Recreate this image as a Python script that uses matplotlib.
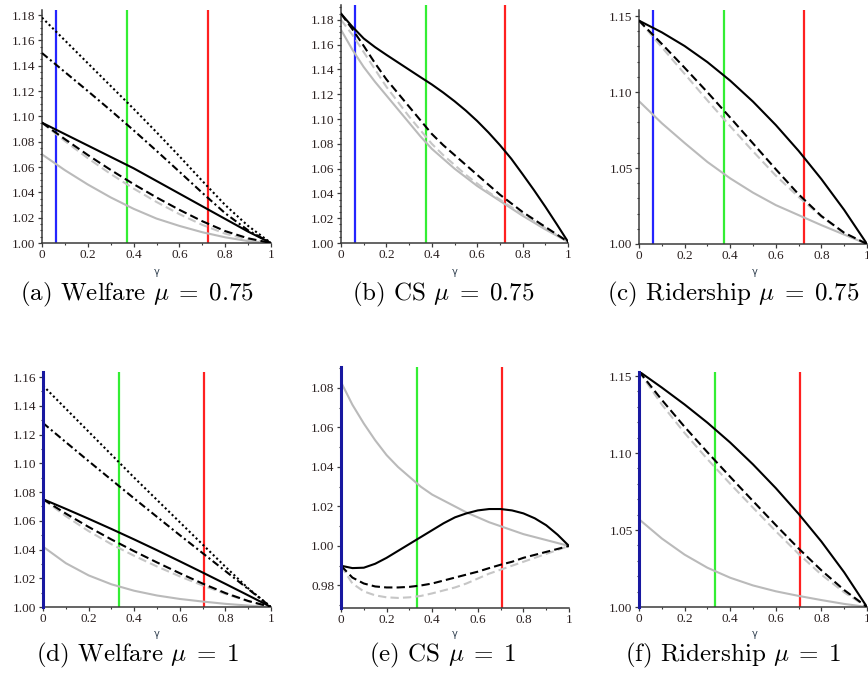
import matplotlib
matplotlib.use("Agg")
import matplotlib.pyplot as plt
from matplotlib.ticker import MultipleLocator, FuncFormatter

plt.rcParams['mathtext.fontset'] = 'cm'

# ---------------- data ----------------
gamma = [0.0, 0.1, 0.2, 0.3, 0.4, 0.5, 0.6, 0.7, 0.8, 0.9, 1.0]
gamma_fine = [0.0, 0.05, 0.1, 0.15, 0.2, 0.25, 0.3, 0.35, 0.4, 0.45, 0.5,
              0.55, 0.6, 0.65, 0.7, 0.75, 0.8, 0.85, 0.9, 0.95, 1.0]

# (a) Welfare mu = 0.75
a_dotted = [1.178, 1.160, 1.142, 1.124, 1.106, 1.0875, 1.0685, 1.0490, 1.0300, 1.0135, 1.000]
a_dashdot = [1.150, 1.135, 1.120, 1.1047, 1.0890, 1.0728, 1.0563, 1.0396, 1.0235, 1.0100, 1.000]
a_solid = [1.095, 1.086, 1.077, 1.068, 1.059, 1.049, 1.039, 1.029, 1.019, 1.009, 1.000]
a_dashed = [1.095, 1.082, 1.0695, 1.0577, 1.0465, 1.0360, 1.0262, 1.0172, 1.0094, 1.0037, 1.000]
a_gray_dashed = [1.095, 1.0805, 1.0670, 1.0545, 1.0430, 1.0324, 1.0228, 1.0143, 1.0074, 1.0027, 1.000]
a_gray = [1.070, 1.0575, 1.0462, 1.0360, 1.0270, 1.0193, 1.0135, 1.0085, 1.0045, 1.0015, 1.000]

# (b) CS mu = 0.75  (fine grid)
b_solid = [1.185, 1.1745, 1.1650, 1.1580, 1.1518, 1.1458, 1.1398, 1.1338, 1.1279, 1.1214, 1.1144,
           1.1068, 1.0984, 1.0891, 1.0790, 1.0680, 1.0555, 1.0427, 1.0293, 1.0153, 1.001]
b_dashed = [1.185, 1.1725, 1.159, 1.145, 1.132, 1.121, 1.110, 1.099, 1.088, 1.079, 1.071,
            1.063, 1.055, 1.047, 1.039, 1.032, 1.025, 1.019, 1.013, 1.007, 1.001]
b_gray_dashed = [1.180, 1.168, 1.154, 1.140, 1.126, 1.114, 1.102, 1.091, 1.080, 1.071, 1.063,
                 1.055, 1.048, 1.041, 1.035, 1.029, 1.023, 1.0175, 1.012, 1.0065, 1.001]
b_gray = [1.172, 1.156, 1.142, 1.130, 1.119, 1.108, 1.097, 1.086, 1.076, 1.068, 1.060,
          1.053, 1.046, 1.040, 1.034, 1.028, 1.022, 1.0165, 1.011, 1.006, 1.001]

# (c) Ridership mu = 0.75
c_solid = [1.147, 1.1393, 1.1303, 1.1197, 1.1075, 1.0937, 1.0783, 1.0613, 1.0427, 1.0224, 1.000]
c_dashed = [1.147, 1.1317, 1.1160, 1.0999, 1.0832, 1.0662, 1.0492, 1.0327, 1.0184, 1.0074, 1.000]
c_gray_dashed = [1.147, 1.1295, 1.1120, 1.0945, 1.0775, 1.0610, 1.0450, 1.0310, 1.0180, 1.0070, 1.000]
c_gray = [1.094, 1.0795, 1.0665, 1.0540, 1.0432, 1.0338, 1.0256, 1.0190, 1.0124, 1.0062, 1.000]

# (d) Welfare mu = 1
d_dotted = [1.154, 1.138, 1.122, 1.106, 1.090, 1.0745, 1.059, 1.0435, 1.028, 1.013, 1.000]
d_dashdot = [1.128, 1.1147, 1.1015, 1.0885, 1.0755, 1.0627, 1.0500, 1.0375, 1.0250, 1.0125, 1.000]
d_solid = [1.075, 1.0683, 1.0614, 1.0543, 1.0470, 1.0395, 1.0318, 1.0240, 1.0161, 1.0081, 1.000]
d_dashed = [1.075, 1.0650, 1.0557, 1.0470, 1.0388, 1.0310, 1.0235, 1.0163, 1.0097, 1.0042, 1.000]
d_gray_dashed = [1.075, 1.0632, 1.0528, 1.0437, 1.0356, 1.0282, 1.0213, 1.0150, 1.0091, 1.0040, 1.000]
d_gray = [1.042, 1.0305, 1.0220, 1.0158, 1.0113, 1.0080, 1.0056, 1.0038, 1.0022, 1.0010, 1.000]

# (e) CS mu = 1  (fine grid)
e_solid = [0.990, 0.9888, 0.9890, 0.9910, 0.9940, 0.9975, 1.001, 1.0045, 1.008, 1.0115, 1.0145,
           1.0165, 1.018, 1.0187, 1.0187, 1.018, 1.0165, 1.0140, 1.0105, 1.0057, 1.000]
e_dashed = [0.990, 0.984, 0.981, 0.9795, 0.979, 0.979, 0.9793, 0.980, 0.981, 0.9825, 0.984,
            0.9855, 0.987, 0.9888, 0.9905, 0.992, 0.994, 0.9955, 0.997, 0.9985, 1.000]
e_gray_dashed = [0.990, 0.981, 0.977, 0.975, 0.974, 0.9737, 0.974, 0.9747, 0.976, 0.9775, 0.979,
                 0.981, 0.9835, 0.986, 0.988, 0.990, 0.992, 0.994, 0.996, 0.998, 1.000]
e_gray = [1.083, 1.0715, 1.062, 1.0535, 1.046, 1.040, 1.035, 1.030, 1.026, 1.023, 1.020,
          1.017, 1.0145, 1.012, 1.010, 1.008, 1.006, 1.0045, 1.003, 1.0015, 1.000]

# (f) Ridership mu = 1
f_solid = [1.153, 1.1425, 1.1315, 1.1197, 1.1068, 1.0926, 1.0772, 1.0605, 1.0425, 1.0225, 1.000]
f_dashed = [1.153, 1.1345, 1.1170, 1.1005, 1.0845, 1.0688, 1.0532, 1.0380, 1.0238, 1.0110, 1.000]
f_gray_dashed = [1.153, 1.1315, 1.1130, 1.0960, 1.0800, 1.0645, 1.0492, 1.0345, 1.0210, 1.0095, 1.000]
f_gray = [1.057, 1.0445, 1.0340, 1.0255, 1.0190, 1.0140, 1.0102, 1.0072, 1.0045, 1.0020, 1.000]

# vertical reference lines (blue, green, red) for mu = 0.75 and mu = 1
vlines_075 = [0.06, 0.373, 0.723]
vlines_1 = [0.0, 0.333, 0.707]

captions = ["(a) Welfare $\\mu\\;=\\;0.75$", "(b) CS $\\mu\\;=\\;0.75$",
            "(c) Ridership $\\mu\\;=\\;0.75$",
            "(d) Welfare $\\mu\\;=\\;1$", "(e) CS $\\mu\\;=\\;1$", "(f) Ridership $\\mu\\;=\\;1$"]

# ---------------- styles ----------------
BLACK = '#000000'
GRAY = '#bababa'
GRAYD = '#c6c6c6'
VCOL = ['#2424ff', '#33ee33', '#ff2020']
LW = 1.5

W, H = 868, 698
fig = plt.figure(figsize=(W / 100, H / 100), dpi=100)


def box(x0, x1, y0, y1):
    return [x0 / W, 1 - y1 / H, (x1 - x0) / W, (y1 - y0) / H]


def fmt_x(v, p):
    if abs(v) < 1e-9:
        return '0'
    if abs(v - 1) < 1e-9:
        return '1'
    return f'{v:.1f}'


def setup(ax, ylim, ymaj, ymin, vlines):
    ax.set_xlim(0, 1)
    ax.set_ylim(*ylim)
    for s in ['top', 'right']:
        ax.spines[s].set_visible(False)
    for s in ['left', 'bottom']:
        ax.spines[s].set_color('#3a3a3a')
        ax.spines[s].set_linewidth(1.1)
    ax.xaxis.set_major_locator(MultipleLocator(0.2))
    ax.xaxis.set_minor_locator(MultipleLocator(0.1))
    ax.yaxis.set_major_locator(MultipleLocator(ymaj))
    ax.yaxis.set_minor_locator(MultipleLocator(ymin))
    ax.xaxis.set_major_formatter(FuncFormatter(fmt_x))
    ax.yaxis.set_major_formatter(FuncFormatter(lambda v, p: f'{v:.2f}'))
    ax.tick_params(which='major', length=2.8, width=0.9, color='#3a3a3a', pad=1.8,
                   labelsize=9.5, labelcolor='#2a2020')
    ax.tick_params(which='minor', length=1.6, width=0.8, color='#3a3a3a')
    for lab in ax.get_xticklabels() + ax.get_yticklabels():
        lab.set_fontfamily('Liberation Serif')
    for xv, c in zip(vlines, VCOL):
        if xv == 0.0:
            ax.axvline(xv, color='#1818a0', lw=2.2, zorder=3.5, clip_on=False)
        else:
            ax.axvline(xv, color=c, lw=1.6, zorder=1)


def curves(ax, x, gray, gray_dashed, dashed, solid, dashdot=None, dotted=None):
    ax.plot(x, gray, color=GRAY, lw=LW, zorder=2)
    ax.plot(x, gray_dashed, color=GRAYD, lw=LW, dashes=(4, 2), zorder=2)
    ax.plot(x, dashed, color=BLACK, lw=LW, dashes=(4, 2), zorder=3)
    ax.plot(x, solid, color=BLACK, lw=LW, zorder=3)
    if dashdot is not None:
        ax.plot(x, dashdot, color=BLACK, lw=LW, dashes=(3.5, 1.5, 1, 1.5), zorder=3)
    if dotted is not None:
        ax.plot(x, dotted, color=BLACK, lw=LW, dashes=(1, 1.3), zorder=3)


# axes boxes in pixels (x0, x1, ytop, ybottom)
ax_a = fig.add_axes(box(42, 271, 10, 243))
setup(ax_a, (1.0, 1.184), 0.02, 0.005, vlines_075)
curves(ax_a, gamma, a_gray, a_gray_dashed, a_dashed, a_solid, a_dashdot, a_dotted)

ax_b = fig.add_axes(box(341, 568, 5, 243))
setup(ax_b, (1.0, 1.192), 0.02, 0.005, vlines_075)
curves(ax_b, gamma_fine, b_gray, b_gray_dashed, b_dashed, b_solid)

ax_c = fig.add_axes(box(639, 867, 10, 244))
setup(ax_c, (1.0, 1.154), 0.05, 0.01, vlines_075)
curves(ax_c, gamma, c_gray, c_gray_dashed, c_dashed, c_solid)

ax_d = fig.add_axes(box(43, 271, 372, 607))
setup(ax_d, (1.0, 1.1635), 0.02, 0.01, vlines_1)
curves(ax_d, gamma, d_gray, d_gray_dashed, d_dashed, d_solid, d_dashdot, d_dotted)

ax_e = fig.add_axes(box(341, 569, 367, 608))
setup(ax_e, (0.9686, 1.0906), 0.02, 0.01, vlines_1)
curves(ax_e, gamma_fine, e_gray, e_gray_dashed, e_dashed, e_solid)

ax_f = fig.add_axes(box(639, 867, 372, 607))
setup(ax_f, (1.0, 1.1526), 0.05, 0.01, vlines_1)
curves(ax_f, gamma, f_gray, f_gray_dashed, f_dashed, f_solid)

# gamma labels and captions
gx = [157, 455, 755]
capx = [137, 443, 733]
for i in range(3):
    fig.text(gx[i] / W, 1 - 272 / H, 'γ', ha='center', va='center', fontsize=7,
             color='#304050', family='DejaVu Sans')
    fig.text(gx[i] / W, 1 - 634 / H, 'γ', ha='center', va='center', fontsize=7,
             color='#304050', family='DejaVu Sans')
    fig.text(capx[i] / W, 1 - 294 / H, captions[i], ha='center', va='center',
             fontsize=18, family='cmr10')
    fig.text(capx[i] / W, 1 - 655 / H, captions[i + 3], ha='center', va='center',
             fontsize=18, family='cmr10')

fig.savefig('out.png', dpi=100, facecolor='white')
